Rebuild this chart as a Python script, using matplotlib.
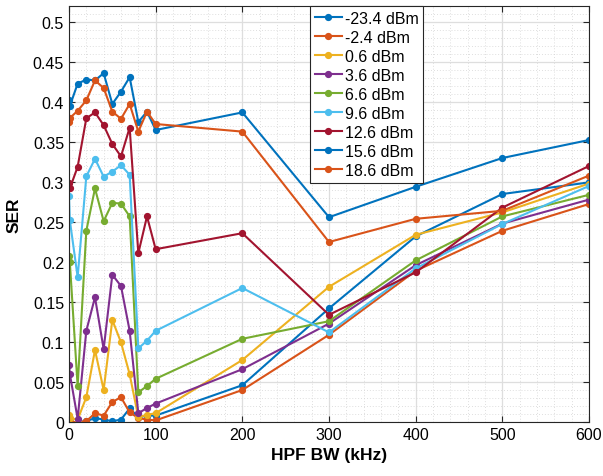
import matplotlib
matplotlib.use("Agg")
import matplotlib.pyplot as plt
from matplotlib.ticker import MultipleLocator

plt.rcParams['font.family'] = ['Liberation Sans', 'DejaVu Sans']

# HPF bandwidth sweep (kHz)
bw_khz = [0, 1, 10, 20, 30, 40, 50, 60, 70, 80, 90, 100, 200, 300, 400, 500, 600]

power_labels = ['-23.4 dBm', '-2.4 dBm', '0.6 dBm', '3.6 dBm', '6.6 dBm',
                '9.6 dBm', '12.6 dBm', '15.6 dBm', '18.6 dBm']

ser_m23_4 = [0.001, 0.0, 0.0, 0.001, 0.005, 0.003, 0.001, 0.003, 0.017, 0.006, 0.008, 0.008,
             0.046, 0.142, 0.232, 0.285, 0.2995]
ser_m2_4 = [0.001, 0.0, 0.0, 0.001, 0.011, 0.008, 0.025, 0.031, 0.012, 0.005, 0.003, 0.002,
            0.040, 0.109, 0.189, 0.239, 0.2725]
ser_0_6 = [0.009, 0.005, 0.003, 0.031, 0.090, 0.040, 0.1275, 0.0996, 0.0596, 0.006, 0.009, 0.011,
           0.0775, 0.169, 0.234, 0.262, 0.298]
ser_3_6 = [0.0717, 0.060, 0.004, 0.114, 0.156, 0.091, 0.184, 0.170, 0.114, 0.011, 0.0175, 0.023,
           0.066, 0.123, 0.196, 0.248, 0.278]
ser_6_6 = [0.207, 0.1996, 0.0446, 0.239, 0.292, 0.251, 0.274, 0.273, 0.257, 0.037, 0.045, 0.054,
           0.104, 0.126, 0.202, 0.257, 0.284]
ser_9_6 = [0.282, 0.252, 0.181, 0.307, 0.329, 0.3067, 0.313, 0.321, 0.309, 0.092, 0.1017, 0.114,
           0.1675, 0.112, 0.192, 0.2475, 0.295]
ser_12_6 = [0.299, 0.292, 0.319, 0.3796, 0.387, 0.371, 0.3475, 0.332, 0.368, 0.211, 0.257, 0.216,
            0.236, 0.134, 0.187, 0.268, 0.320]
ser_15_6 = [0.403, 0.395, 0.423, 0.428, 0.427, 0.436, 0.3975, 0.413, 0.431, 0.375, 0.388, 0.365,
            0.387, 0.256, 0.294, 0.330, 0.3525]
ser_18_6 = [0.375, 0.380, 0.389, 0.402, 0.427, 0.4175, 0.388, 0.379, 0.3975, 0.363, 0.388, 0.3725,
            0.363, 0.225, 0.254, 0.264, 0.308]

all_ser = [ser_m23_4, ser_m2_4, ser_0_6, ser_3_6, ser_6_6, ser_9_6, ser_12_6, ser_15_6, ser_18_6]

# MATLAB default line colour order
colors = ['#0072BD', '#D95319', '#EDB120', '#7E2F8E', '#77AC30',
          '#4DBEEE', '#A2142F', '#0072BD', '#D95319']

fig = plt.figure(figsize=(6.03, 4.77), dpi=100)
ax = fig.add_axes([0.1144, 0.1132, 0.8624, 0.8721])

for lab, ser, c in zip(power_labels, all_ser, colors):
    ax.plot(bw_khz, ser, '-o', color=c, lw=1.5, ms=4.2, label=lab)

ax.set_xlim(0, 600)
ax.set_ylim(0, 0.52)
ax.xaxis.set_major_locator(MultipleLocator(100))
ax.xaxis.set_minor_locator(MultipleLocator(20))
ax.yaxis.set_minor_locator(MultipleLocator(0.01))
ax.set_yticks([0, 0.05, 0.1, 0.15, 0.2, 0.25, 0.3, 0.35, 0.4, 0.45, 0.5])
ax.set_yticklabels(['0', '0.05', '0.1', '0.15', '0.2', '0.25', '0.3', '0.35', '0.4', '0.45', '0.5'])

ax.grid(which='major', color='#dedede', lw=0.9, ls='-')
ax.grid(which='minor', color='#d4d4d4', lw=0.6, ls=(0, (1, 2.5)))
ax.set_axisbelow(True)
ax.tick_params(which='both', direction='in', top=True, right=True, labelsize=11.5, color='#262626')
ax.tick_params(which='major', length=4)
ax.tick_params(which='minor', length=0)
for s in ax.spines.values():
    s.set_color('#262626')
    s.set_linewidth(0.8)

ax.set_xlabel('HPF BW (kHz)', fontsize=12.5, fontweight='bold', labelpad=4)
ax.set_ylabel('SER', fontsize=12.5, fontweight='bold', labelpad=8)

leg = ax.legend(loc='upper left', bbox_to_anchor=(0.463, 1.0), fontsize=11.5, frameon=True,
                fancybox=False, edgecolor='#262626', framealpha=1, handlelength=1.7,
                handletextpad=0.2, labelspacing=0.25, borderpad=0.3, borderaxespad=0)
leg.get_frame().set_linewidth(0.8)

fig.savefig('out.png', dpi=100)
